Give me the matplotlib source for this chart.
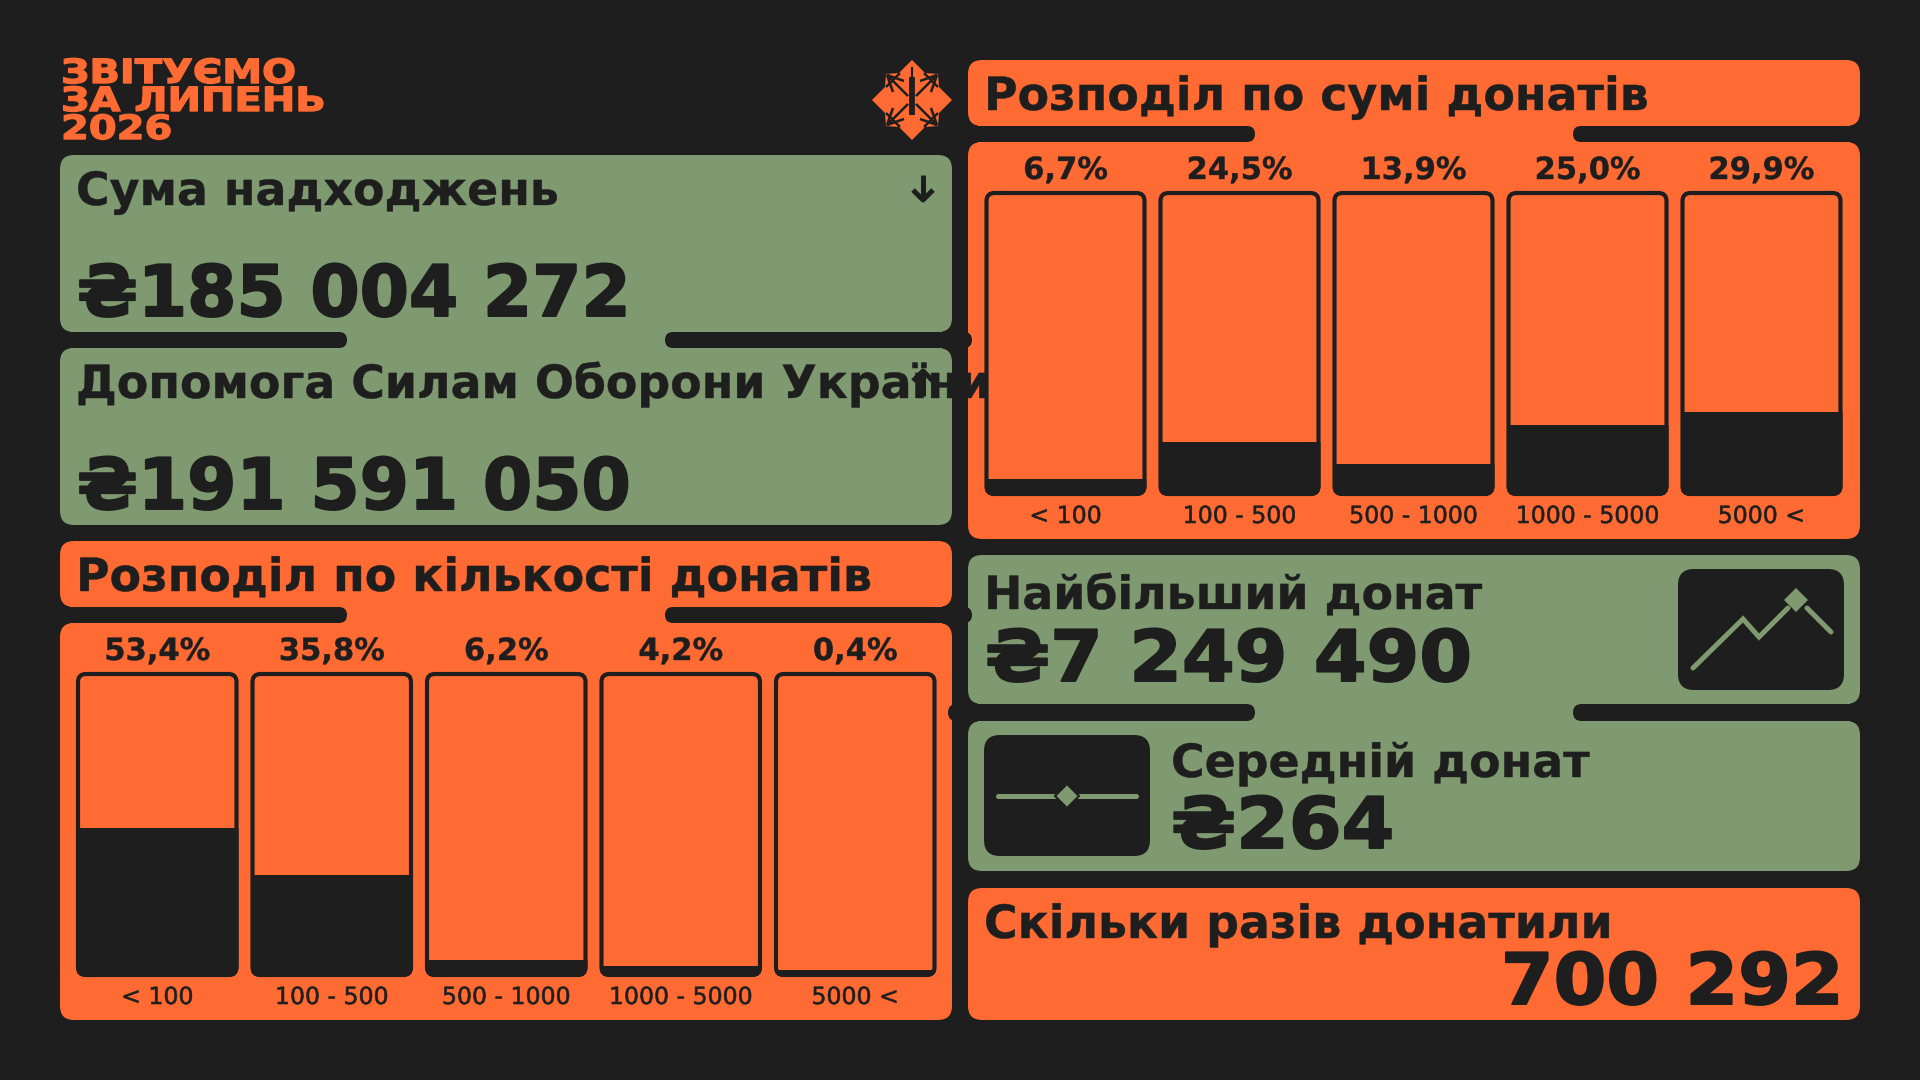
import matplotlib
matplotlib.use('Agg')
import matplotlib.pyplot as plt
from matplotlib import patheffects
from matplotlib.patches import FancyBboxPatch, Rectangle, Polygon
from matplotlib.transforms import Affine2D

bg = '#1e1e1e'
orange = '#ff6b33'
green = '#7f9a70'

title_lines = ['ЗВІТУЄМО', 'ЗА ЛИПЕНЬ', '2026']
ranges = ['< 100', '100 - 500', '500 - 1000', '1000 - 5000', '5000 <']
count_labels = ['53,4%', '35,8%', '6,2%', '4,2%', '0,4%']
sum_labels = ['6,7%', '24,5%', '13,9%', '25,0%', '29,9%']
# how full each box looks in the picture, percent of box height
count_fill = [49.0, 33.3, 5.6, 3.6, 2.4]
sum_fill = [5.6, 17.7, 10.4, 23.3, 27.7]

narrow = ['Liberation Sans Narrow', 'DejaVu Sans']
wide = ['DejaVu Sans']


class Wide(patheffects.AbstractPathEffect):
    # stretches glyphs sideways and thickens them, the text stays text
    def __init__(self, sx=1.0, lw=0.0, anchor='left'):
        super().__init__()
        self.sx = sx
        self.lw = lw
        self.anchor = anchor

    def draw_path(self, renderer, gc, tpath, affine, rgbFace=None):
        ext = tpath.get_extents()
        x0 = {'left': 0, 'center': (ext.x0 + ext.x1) / 2, 'right': ext.x1}[self.anchor]
        aff = Affine2D().translate(-x0, 0).scale(self.sx, 1).translate(x0, 0) + affine
        gc0 = renderer.new_gc()
        gc0.copy_properties(gc)
        gc0.set_foreground(rgbFace)
        gc0.set_linewidth(self.lw)
        renderer.draw_path(gc0, tpath, aff, rgbFace)
        gc0.restore()


fig = plt.figure(figsize=(19.2, 10.8), dpi=100, facecolor=bg)
ax = fig.add_axes([0, 0, 1, 1])
ax.set_xlim(0, 1920)
ax.set_ylim(1080, 0)
ax.axis('off')


def card(x0, y0, x1, y1, color, r=14, z=1, a=ax):
    p = FancyBboxPatch((x0 + r, y0 + r), x1 - x0 - 2 * r, y1 - y0 - 2 * r,
                       boxstyle='round,pad=%d,rounding_size=%d' % (r, r),
                       fc=color, ec='none', zorder=z, transform=ax.transData)
    a.add_patch(p)
    return p


def link(y0, y1, x0, x1, color):
    # colored strip between two cards with two dark rounded bars over it
    w = x1 - x0
    ax.add_patch(Rectangle((x0 + 10, y0 - 2), w - 20, y1 - y0 + 4, fc=color, ec='none', zorder=1))
    h = y1 - y0
    ax.add_patch(FancyBboxPatch((x0 - 20 + h / 2, y0 + h / 2), 307 - h, 0,
                                boxstyle='round,pad=%g,rounding_size=%g' % (h / 2, h / 2),
                                fc=bg, ec='none', zorder=2))
    ax.add_patch(FancyBboxPatch((x0 + 605 + h / 2, y0 + h / 2), 307 - h, 0,
                                boxstyle='round,pad=%g,rounding_size=%g' % (h / 2, h / 2),
                                fc=bg, ec='none', zorder=2))


def head(x, y, s, size=33, color=bg, weight='bold', ha='left'):
    ax.text(x, y, s, fontsize=size, family=narrow, weight=weight, color=color, ha=ha,
            va='baseline', zorder=5,
            path_effects=[Wide(sx=1.0, lw=0.3, anchor=ha)])


def big(x, y, s, sx=1.0, color=bg, size=51, ha='left'):
    ax.text(x, y, s, fontsize=size, family=wide, weight='bold', color=color, ha=ha,
            va='baseline', zorder=5,
            path_effects=[Wide(sx=sx, lw=1.4, anchor=ha)])


def chart(left, pitch, top, bottom, fill, labels, names):
    # one axes per chart, so bars sit on a real 0-100 scale
    n = len(fill)
    w = pitch - 12
    xa = left + w / 2 - pitch / 2
    a = fig.add_axes([xa / 1920, 1 - bottom / 1080, pitch * n / 1920, (bottom - top) / 1080])
    a.set_xlim(-0.5, n - 0.5)
    a.set_ylim(0, 100)
    a.axis('off')
    bars = a.bar(range(n), fill, width=w / pitch, color=bg)
    for i, b in enumerate(bars):
        x0 = left + i * pitch
        box = FancyBboxPatch((x0 + 10, top + 10), w - 20, bottom - top - 20,
                             boxstyle='round,pad=8,rounding_size=8', fc='none', ec=bg, lw=3,
                             transform=ax.transData, clip_on=False, zorder=4)
        a.add_patch(box)
        outer = FancyBboxPatch((x0 + 10, top + 10), w - 20, bottom - top - 20,
                               boxstyle='round,pad=10,rounding_size=10',
                               transform=ax.transData)
        b.set_clip_path(outer)
        ax.text(x0 + w / 2, top - 12, labels[i], fontsize=22, family=narrow, weight='bold',
                color=bg, ha='center', va='baseline', zorder=5,
                path_effects=[Wide(lw=0.3, anchor='center')])
        ax.text(x0 + w / 2, bottom + 27, names[i], fontsize=17, family=narrow, color=bg,
                ha='center', va='baseline', zorder=5,
                path_effects=[Wide(lw=0.4, anchor='center')])


# left column
card(60, 155, 952, 332, green)
card(60, 348, 952, 525, green)
link(332, 348, 60, 952, green)
card(60, 541, 952, 607, orange)
card(60, 623, 952, 1020, orange)
link(607, 623, 60, 952, orange)

# right column
card(968, 60, 1860, 126, orange)
card(968, 142, 1860, 539, orange)
link(126, 142, 968, 1860, orange)
card(968, 555, 1860, 704, green)
card(968, 721, 1860, 871, green)
link(704, 721, 968, 1860, green)
card(968, 888, 1860, 1020, orange)

# title
title_y = [83, 111, 139]
for s, y in zip(title_lines, title_y):
    ax.text(61, y, s, fontsize=24, family=wide, weight='bold', color=orange, va='baseline',
            path_effects=[Wide(sx=1.2, lw=1.0)])

# logo
cx, cy = 912, 100
star = [(0, -40), (13, -27), (26, -26), (27, -13), (40, 0), (27, 13), (26, 26), (13, 27),
        (0, 40), (-13, 27), (-26, 26), (-27, 13), (-40, 0), (-27, -13), (-26, -26), (-13, -27)]
ax.add_patch(Polygon([(cx + x, cy + y) for x, y in star], fc=orange, ec='none', zorder=3))
for (x0, y0), (x1, y1) in [((-26, -13), (-12, -27)), ((12, -27), (26, -13)),
                           ((-26, 13), (-12, 27)), ((12, 27), (26, 13)),
                           ((-25, -25), (-4, -4)), ((25, -25), (4, -4)),
                           ((-25, 25), (-4, 4)), ((25, 25), (4, 4)),
                           ((-25, -25), (-8, -19)), ((-25, -25), (-19, -8)),
                           ((25, -25), (8, -19)), ((25, -25), (19, -8)),
                           ((-25, 25), (-8, 19)), ((-25, 25), (-19, 8)),
                           ((25, 25), (8, 19)), ((25, 25), (19, 8))]:
    ax.plot([cx + x0, cx + x1], [cy + y0, cy + y1], color=bg, lw=1.8, zorder=4,
            solid_capstyle='butt')
ax.plot([cx, cx], [cy - 23, cy + 15], color=bg, lw=4.2, zorder=4, solid_capstyle='butt')
ax.plot([cx, cx], [cy - 32, cy - 20], color=bg, lw=1.6, zorder=4)

# cards text
head(76, 205, 'Сума надходжень')
big(77, 316, '₴185 004 272')
head(76, 398, 'Допомога Силам Оборони України')
big(77, 509, '₴191 591 050')
head(76, 591, 'Розподіл по кількості донатів')
head(984, 110, 'Розподіл по сумі донатів')
head(984, 609, 'Найбільший донат')
big(985, 681, '₴7 249 490', sx=1.07)
head(1171, 777, 'Середній донат')
big(1171, 848, '₴264', sx=1.07)
head(984, 938, 'Скільки разів донатили')
big(1843, 1004, '700 292', sx=1.07, ha='right')

# arrows
ax.plot([923, 923], [175, 200], color=bg, lw=3.6, zorder=5, solid_capstyle='butt')
ax.plot([913, 923, 933], [190, 200, 190], color=bg, lw=3.6, zorder=5, solid_capstyle='butt')
ax.plot([923, 923], [396, 371], color=bg, lw=3.6, zorder=5, solid_capstyle='butt')
ax.plot([913, 923, 933], [381, 371, 381], color=bg, lw=3.6, zorder=5, solid_capstyle='butt')

# icons
card(1678, 569, 1844, 690, bg, r=16, z=2)
ax.plot([1693, 1743, 1759, 1788], [668, 619, 637, 608], color=green, lw=3.6, zorder=3,
        solid_capstyle='round', solid_joinstyle='miter')
ax.plot([1807, 1831], [608, 632], color=green, lw=3.6, zorder=3, solid_capstyle='round')
ax.add_patch(Polygon([(1796, 588), (1808, 600), (1796, 612), (1784, 600)], fc=green, ec='none', zorder=4))
card(984, 735, 1150, 856, bg, r=16, z=2)
ax.plot([998, 1136], [796, 796], color=green, lw=3.6, zorder=3, solid_capstyle='round')
ax.add_patch(Polygon([(1067, 784), (1079, 796), (1067, 808), (1055, 796)], fc=green, ec=bg, lw=1.5, zorder=4))

# charts
chart(76, 174.5, 672, 977, count_fill, count_labels, ranges)
chart(984.5, 174, 191, 496, sum_fill, sum_labels, ranges)

fig.savefig('out.png', dpi=100, facecolor=bg)
